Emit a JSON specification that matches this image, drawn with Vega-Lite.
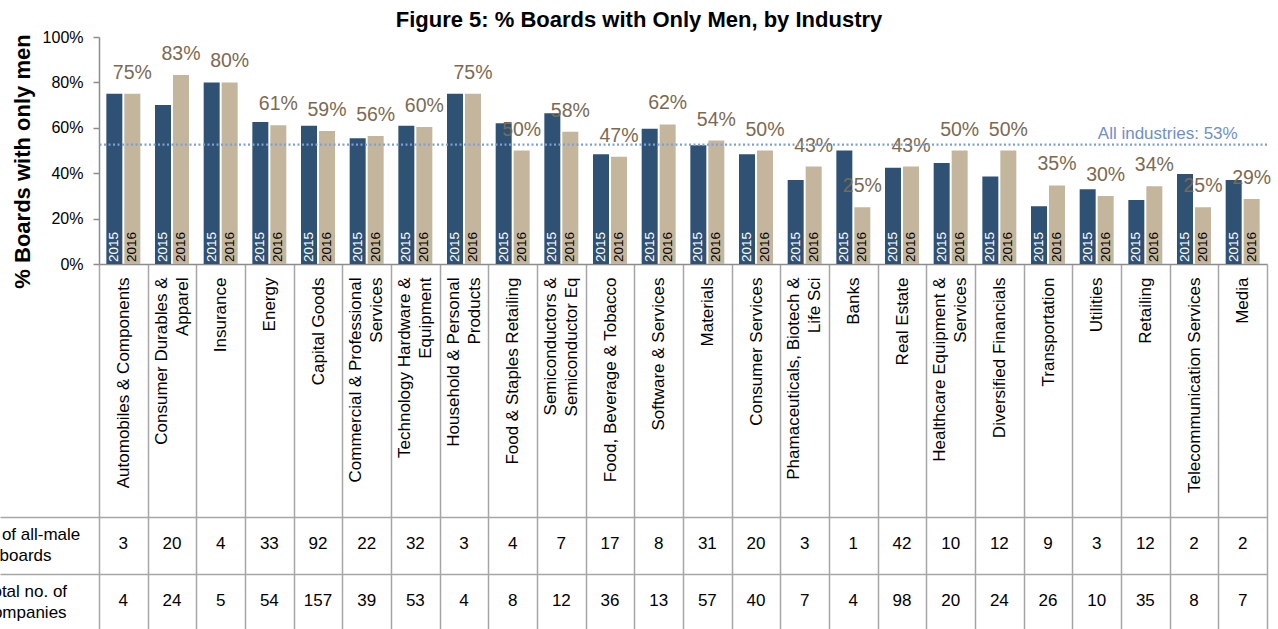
{
  "$schema": "https://vega.github.io/schema/vega-lite/v6.json",
  "autosize": "none",
  "padding": {"left": 99, "top": 37, "right": 11, "bottom": 365},
  "background": "white",
  "config": {"view": {"stroke": null}, "font": "Liberation Sans"},
  "width": 1168,
  "height": 227,
  "title": {
    "text": "Figure 5: % Boards with Only Men, by Industry",
    "fontSize": 22,
    "fontWeight": "bold",
    "color": "black",
    "anchor": "middle",
    "frame": "group",
    "dx": -44,
    "dy": 23,
    "offset": 2,
    "baseline": "alphabetic"
  },
  "datasets": {
    "bars": [
      {"industry": "Automobiles & Components", "year": "2015", "share": 0.75},
      {"industry": "Automobiles & Components", "year": "2016", "share": 0.75},
      {"industry": "Consumer Durables &|Apparel", "year": "2015", "share": 0.70},
      {"industry": "Consumer Durables &|Apparel", "year": "2016", "share": 0.833},
      {"industry": "Insurance", "year": "2015", "share": 0.80},
      {"industry": "Insurance", "year": "2016", "share": 0.80},
      {"industry": "Energy", "year": "2015", "share": 0.626},
      {"industry": "Energy", "year": "2016", "share": 0.611},
      {"industry": "Capital Goods", "year": "2015", "share": 0.609},
      {"industry": "Capital Goods", "year": "2016", "share": 0.586},
      {"industry": "Commercial & Professional|Services", "year": "2015", "share": 0.554},
      {"industry": "Commercial & Professional|Services", "year": "2016", "share": 0.564},
      {"industry": "Technology Hardware &|Equipment", "year": "2015", "share": 0.609},
      {"industry": "Technology Hardware &|Equipment", "year": "2016", "share": 0.604},
      {"industry": "Household & Personal|Products", "year": "2015", "share": 0.75},
      {"industry": "Household & Personal|Products", "year": "2016", "share": 0.75},
      {"industry": "Food & Staples Retailing", "year": "2015", "share": 0.62},
      {"industry": "Food & Staples Retailing", "year": "2016", "share": 0.50},
      {"industry": "Semiconductors &|Semiconductor Eq", "year": "2015", "share": 0.664},
      {"industry": "Semiconductors &|Semiconductor Eq", "year": "2016", "share": 0.583},
      {"industry": "Food, Beverage & Tobacco", "year": "2015", "share": 0.483},
      {"industry": "Food, Beverage & Tobacco", "year": "2016", "share": 0.472},
      {"industry": "Software & Services", "year": "2015", "share": 0.596},
      {"industry": "Software & Services", "year": "2016", "share": 0.615},
      {"industry": "Materials", "year": "2015", "share": 0.523},
      {"industry": "Materials", "year": "2016", "share": 0.544},
      {"industry": "Consumer Services", "year": "2015", "share": 0.483},
      {"industry": "Consumer Services", "year": "2016", "share": 0.50},
      {"industry": "Phamaceuticals, Biotech &|Life Sci", "year": "2015", "share": 0.37},
      {"industry": "Phamaceuticals, Biotech &|Life Sci", "year": "2016", "share": 0.429},
      {"industry": "Banks", "year": "2015", "share": 0.50},
      {"industry": "Banks", "year": "2016", "share": 0.25},
      {"industry": "Real Estate", "year": "2015", "share": 0.424},
      {"industry": "Real Estate", "year": "2016", "share": 0.429},
      {"industry": "Healthcare Equipment &|Services", "year": "2015", "share": 0.445},
      {"industry": "Healthcare Equipment &|Services", "year": "2016", "share": 0.50},
      {"industry": "Diversified Financials", "year": "2015", "share": 0.386},
      {"industry": "Diversified Financials", "year": "2016", "share": 0.50},
      {"industry": "Transportation", "year": "2015", "share": 0.254},
      {"industry": "Transportation", "year": "2016", "share": 0.346},
      {"industry": "Utilities", "year": "2015", "share": 0.329},
      {"industry": "Utilities", "year": "2016", "share": 0.30},
      {"industry": "Retailing", "year": "2015", "share": 0.282},
      {"industry": "Retailing", "year": "2016", "share": 0.343},
      {"industry": "Telecommunication Services", "year": "2015", "share": 0.396},
      {"industry": "Telecommunication Services", "year": "2016", "share": 0.25},
      {"industry": "Media", "year": "2015", "share": 0.37},
      {"industry": "Media", "year": "2016", "share": 0.286}
    ],
    "counts": [
      {"industry": "Automobiles & Components", "row": "No. of all-male|boards", "n": 3},
      {"industry": "Consumer Durables &|Apparel", "row": "No. of all-male|boards", "n": 20},
      {"industry": "Insurance", "row": "No. of all-male|boards", "n": 4},
      {"industry": "Energy", "row": "No. of all-male|boards", "n": 33},
      {"industry": "Capital Goods", "row": "No. of all-male|boards", "n": 92},
      {"industry": "Commercial & Professional|Services", "row": "No. of all-male|boards", "n": 22},
      {"industry": "Technology Hardware &|Equipment", "row": "No. of all-male|boards", "n": 32},
      {"industry": "Household & Personal|Products", "row": "No. of all-male|boards", "n": 3},
      {"industry": "Food & Staples Retailing", "row": "No. of all-male|boards", "n": 4},
      {"industry": "Semiconductors &|Semiconductor Eq", "row": "No. of all-male|boards", "n": 7},
      {"industry": "Food, Beverage & Tobacco", "row": "No. of all-male|boards", "n": 17},
      {"industry": "Software & Services", "row": "No. of all-male|boards", "n": 8},
      {"industry": "Materials", "row": "No. of all-male|boards", "n": 31},
      {"industry": "Consumer Services", "row": "No. of all-male|boards", "n": 20},
      {"industry": "Phamaceuticals, Biotech &|Life Sci", "row": "No. of all-male|boards", "n": 3},
      {"industry": "Banks", "row": "No. of all-male|boards", "n": 1},
      {"industry": "Real Estate", "row": "No. of all-male|boards", "n": 42},
      {"industry": "Healthcare Equipment &|Services", "row": "No. of all-male|boards", "n": 10},
      {"industry": "Diversified Financials", "row": "No. of all-male|boards", "n": 12},
      {"industry": "Transportation", "row": "No. of all-male|boards", "n": 9},
      {"industry": "Utilities", "row": "No. of all-male|boards", "n": 3},
      {"industry": "Retailing", "row": "No. of all-male|boards", "n": 12},
      {"industry": "Telecommunication Services", "row": "No. of all-male|boards", "n": 2},
      {"industry": "Media", "row": "No. of all-male|boards", "n": 2},
      {"industry": "Automobiles & Components", "row": "Total no. of|companies", "n": 4},
      {"industry": "Consumer Durables &|Apparel", "row": "Total no. of|companies", "n": 24},
      {"industry": "Insurance", "row": "Total no. of|companies", "n": 5},
      {"industry": "Energy", "row": "Total no. of|companies", "n": 54},
      {"industry": "Capital Goods", "row": "Total no. of|companies", "n": 157},
      {"industry": "Commercial & Professional|Services", "row": "Total no. of|companies", "n": 39},
      {"industry": "Technology Hardware &|Equipment", "row": "Total no. of|companies", "n": 53},
      {"industry": "Household & Personal|Products", "row": "Total no. of|companies", "n": 4},
      {"industry": "Food & Staples Retailing", "row": "Total no. of|companies", "n": 8},
      {"industry": "Semiconductors &|Semiconductor Eq", "row": "Total no. of|companies", "n": 12},
      {"industry": "Food, Beverage & Tobacco", "row": "Total no. of|companies", "n": 36},
      {"industry": "Software & Services", "row": "Total no. of|companies", "n": 13},
      {"industry": "Materials", "row": "Total no. of|companies", "n": 57},
      {"industry": "Consumer Services", "row": "Total no. of|companies", "n": 40},
      {"industry": "Phamaceuticals, Biotech &|Life Sci", "row": "Total no. of|companies", "n": 7},
      {"industry": "Banks", "row": "Total no. of|companies", "n": 4},
      {"industry": "Real Estate", "row": "Total no. of|companies", "n": 98},
      {"industry": "Healthcare Equipment &|Services", "row": "Total no. of|companies", "n": 20},
      {"industry": "Diversified Financials", "row": "Total no. of|companies", "n": 24},
      {"industry": "Transportation", "row": "Total no. of|companies", "n": 26},
      {"industry": "Utilities", "row": "Total no. of|companies", "n": 10},
      {"industry": "Retailing", "row": "Total no. of|companies", "n": 35},
      {"industry": "Telecommunication Services", "row": "Total no. of|companies", "n": 8},
      {"industry": "Media", "row": "Total no. of|companies", "n": 7}
    ],
    "avg": [{"label": "All industries: 53%", "avg": 0.526}]
  },
  "resolve": {"scale": {"y": "independent"}, "axis": {"y": "independent"}},
  "layer": [
    {
      "layer": [
        {
          "data": {"name": "bars"},
          "mark": {"type": "bar"},
          "encoding": {
            "x": {
              "field": "industry", "type": "nominal", "sort": null,
              "scale": {"paddingInner": 0, "paddingOuter": 0},
              "axis": {
                "title": null,
                "domain": true, "domainColor": "#8c8c8c", "domainWidth": 1.5,
                "ticks": true, "tickBand": "extent", "tickSize": 366,
                "tickColor": "#a6a6a6", "tickWidth": 1.5,
                "grid": false,
                "labelAngle": 270,
                "labelFontSize": 17, "labelColor": "black",
                "labelLineHeight": 21,
                "labelLimit": 0,
                "labelExpr": "isValid(datum.value) ? split(datum.value, '|') : ''",
                "labelBaseline": {"condition": {"test": "isValid(datum.value) && indexof(datum.value, '|') >= 0", "value": "line-bottom"}, "value": "middle"},
                "labelAlign": "right",
                "labelPadding": -353,
                "labelOverlap": false
              }
            },
            "xOffset": {
              "field": "year", "type": "nominal",
              "scale": {"paddingInner": 0.111, "paddingOuter": 0.408}
            },
            "y": {
              "field": "share", "type": "quantitative",
              "scale": {"domain": [0, 1]},
              "axis": {
                "title": "% Boards with only men",
                "titleFontSize": 22, "titleFontWeight": "bold", "titleColor": "black",
                "titleAngle": 270, "titleX": -77, "titleY": 124,
                "titleAlign": "center", "titleBaseline": "middle",
                "values": [0, 0.2, 0.4, 0.6, 0.8, 1],
                "format": ".0%",
                "labelFontSize": 16, "labelColor": "black", "labelPadding": 10,
                "tickSize": 6, "tickColor": "#8c8c8c", "tickWidth": 1.5,
                "domainColor": "#8c8c8c", "domainWidth": 1.5,
                "grid": false
              }
            },
            "color": {
              "field": "year", "type": "nominal",
              "scale": {"domain": ["2015", "2016"], "range": ["#2f5274", "#c4b59d"]},
              "legend": null
            }
          }
        },
        {
          "data": {"name": "bars"},
          "mark": {"type": "text", "angle": 270, "align": "left", "baseline": "middle", "dx": 2, "fontSize": 13.5},
          "encoding": {
            "x": {"field": "industry", "type": "nominal", "sort": null},
            "xOffset": {"field": "year", "type": "nominal"},
            "y": {"datum": 0, "type": "quantitative"},
            "text": {"field": "year"},
            "color": {"condition": {"test": "datum.year === '2015'", "value": "white"}, "value": "black"}
          }
        },
        {
          "data": {"name": "bars"},
          "transform": [{"filter": "datum.year === '2016'"}],
          "mark": {"type": "text", "baseline": "alphabetic", "dy": -15, "fontSize": 19.5, "color": "#7b6a50"},
          "encoding": {
            "x": {"field": "industry", "type": "nominal", "sort": null},
            "xOffset": {"field": "year", "type": "nominal"},
            "y": {"field": "share", "type": "quantitative"},
            "text": {"field": "share", "type": "quantitative", "format": ".0%"}
          }
        },
        {
          "data": {"name": "avg"},
          "mark": {"type": "rule", "strokeDash": [2, 2.5], "strokeWidth": 2.2, "color": "#7f9fd0"},
          "encoding": {
            "y": {"field": "avg", "type": "quantitative"}
          }
        },
        {
          "data": {"name": "avg"},
          "mark": {"type": "text", "align": "right", "baseline": "alphabetic", "dy": -6, "dx": -5, "fontSize": 17, "color": "#6f8fc5"},
          "encoding": {
            "x": {"datum": "Media", "type": "nominal"},
            "y": {"field": "avg", "type": "quantitative"},
            "text": {"field": "label"}
          }
        }
      ]
    },
    {
      "data": {"name": "counts"},
      "mark": {"type": "text", "fontSize": 17, "color": "black", "dy": -2},
      "encoding": {
        "x": {"field": "industry", "type": "nominal", "sort": null},
        "y": {
          "field": "row", "type": "nominal", "sort": null,
          "scale": {"range": [480, 594], "paddingInner": 0, "paddingOuter": 0},
          "axis": {
            "orient": "left",
            "title": null, "domain": false,
            "grid": true, "tickBand": "extent", "gridColor": "#a6a6a6", "gridWidth": 1.5,
            "ticks": true, "tickSize": 99, "tickColor": "#a6a6a6", "tickWidth": 1.5,
            "labelExpr": "isValid(datum.value) ? split(datum.value, '|') : ''",
            "labelAlign": "center", "labelBaseline": "middle",
            "labelPadding": -25, "labelOffset": -11, "labelLineHeight": 21,
            "labelFontSize": 17, "labelColor": "black"
          }
        },
        "text": {"field": "n", "type": "quantitative"}
      }
    }
  ]
}
